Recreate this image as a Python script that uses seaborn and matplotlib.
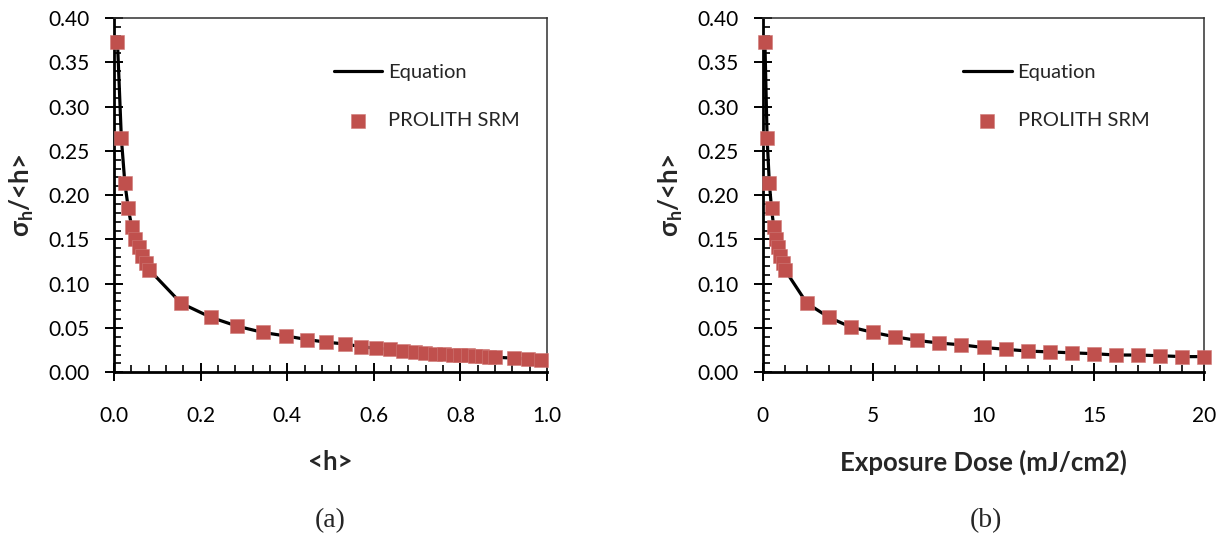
import matplotlib
matplotlib.use("Agg")
import matplotlib.pyplot as plt
from matplotlib.ticker import MultipleLocator, FormatStrFormatter
import seaborn as sns

# Panel (a): normalized height roughness versus mean height
h_mean = [0.008, 0.017, 0.025, 0.033, 0.041, 0.049, 0.057, 0.065, 0.073, 0.081,
          0.155, 0.224, 0.285, 0.344, 0.397, 0.446, 0.490, 0.533, 0.570, 0.605,
          0.637, 0.667, 0.694, 0.718, 0.742, 0.763, 0.782, 0.800, 0.817, 0.834,
          0.850, 0.865, 0.879, 0.924, 0.955, 0.986]
ratio_a = [0.373, 0.264, 0.214, 0.185, 0.164, 0.151, 0.141, 0.131, 0.123, 0.116,
           0.078, 0.062, 0.052, 0.045, 0.041, 0.037, 0.034, 0.032, 0.029, 0.027,
           0.026, 0.024, 0.023, 0.022, 0.021, 0.021, 0.020, 0.019, 0.019, 0.018,
           0.018, 0.017, 0.017, 0.016, 0.015, 0.014]

# Panel (b): normalized height roughness versus exposure dose
dose = [0.1, 0.2, 0.3, 0.4, 0.5, 0.6, 0.7, 0.8, 0.9, 1.0,
        2, 3, 4, 5, 6, 7, 8, 9, 10, 11, 12, 13, 14, 15, 16, 17, 18, 19, 20]
ratio_b = [0.373, 0.264, 0.214, 0.185, 0.164, 0.151, 0.141, 0.131, 0.123, 0.116,
           0.078, 0.062, 0.051, 0.045, 0.040, 0.036, 0.033, 0.031, 0.028, 0.026,
           0.024, 0.023, 0.022, 0.021, 0.0195, 0.0195, 0.0187, 0.0177, 0.0177]

series_labels = ["Equation", "PROLITH SRM"]
y_label = "σ$_\\mathregular{h}$/<h>"
x_labels = ["<h>", "Exposure Dose (mJ/cm2)"]
captions = ["(a)", "(b)"]

sns.set_theme(style="white")
plt.rcParams["font.family"] = ["Lato", "DejaVu Sans"]
plt.rcParams["mathtext.default"] = "regular"

W, H = 1223, 540
fig = plt.figure(figsize=(W / 100, H / 100), dpi=100)
ax1 = fig.add_axes([114 / W, 1 - 372.3 / H, 433 / W, 354.3 / H])
ax2 = fig.add_axes([762.7 / W, 1 - 372.3 / H, 441.6 / W, 354.3 / H])

marker_red = "#C0504D"


def draw_panel(ax, x, y, xlabel, xmax, xmajor, xminor, xfmt, legend_x):
    sns.lineplot(x=x, y=y, ax=ax, color="black", linewidth=2.3,
                 estimator=None, sort=False, label=series_labels[0], zorder=2)
    sns.scatterplot(x=x, y=y, ax=ax, marker="s", s=95, color=marker_red,
                    edgecolor="#D07A77", linewidth=0.4, label=series_labels[1],
                    zorder=3, clip_on=False)
    ax.set_xlim(0, xmax)
    ax.set_ylim(0, 0.40)
    ax.xaxis.set_major_locator(MultipleLocator(xmajor))
    ax.xaxis.set_minor_locator(MultipleLocator(xminor))
    ax.yaxis.set_major_locator(MultipleLocator(0.05))
    ax.yaxis.set_minor_locator(MultipleLocator(0.01))
    ax.xaxis.set_major_formatter(FormatStrFormatter(xfmt))
    ax.yaxis.set_major_formatter(FormatStrFormatter("%.2f"))

    ax.tick_params(which="major", direction="inout", length=13, width=1.4,
                   labelsize=15, colors="black", bottom=True, left=True)
    ax.tick_params(which="minor", direction="in", length=5, width=1.2,
                   colors="black", bottom=True, left=True)
    ax.tick_params(axis="x", which="major", pad=18)
    ax.tick_params(axis="y", which="major", pad=11)

    for side in ("left", "bottom"):
        ax.spines[side].set_linewidth(2.0)
        ax.spines[side].set_color("black")
    for side in ("top", "right"):
        ax.spines[side].set_linewidth(1.1)
        ax.spines[side].set_color("#303030")

    ax.set_xlabel(xlabel, fontsize=18.5, fontweight="bold", labelpad=17)
    ax.set_ylabel(y_label, fontsize=18.5, fontweight="bold", labelpad=9)

    handles, labels = ax.get_legend_handles_labels()
    ax.legend(handles, labels, loc="upper left",
              bbox_to_anchor=(legend_x, 0.87), frameon=False, fontsize=14.5,
              handlelength=2.4, handletextpad=0.3, labelspacing=1.55,
              borderpad=0, borderaxespad=0)


draw_panel(ax1, h_mean, ratio_a, x_labels[0], 1.0, 0.2, 0.04, "%.1f", 0.508)
draw_panel(ax2, dose, ratio_b, x_labels[1], 20, 5, 1, "%d", 0.454)

fig.text(330 / W, 1 - 521 / H, captions[0], ha="center", va="center",
         fontsize=20, family="Liberation Serif")
fig.text(986 / W, 1 - 521 / H, captions[1], ha="center", va="center",
         fontsize=20, family="Liberation Serif")

fig.savefig("out.png", dpi=100)
